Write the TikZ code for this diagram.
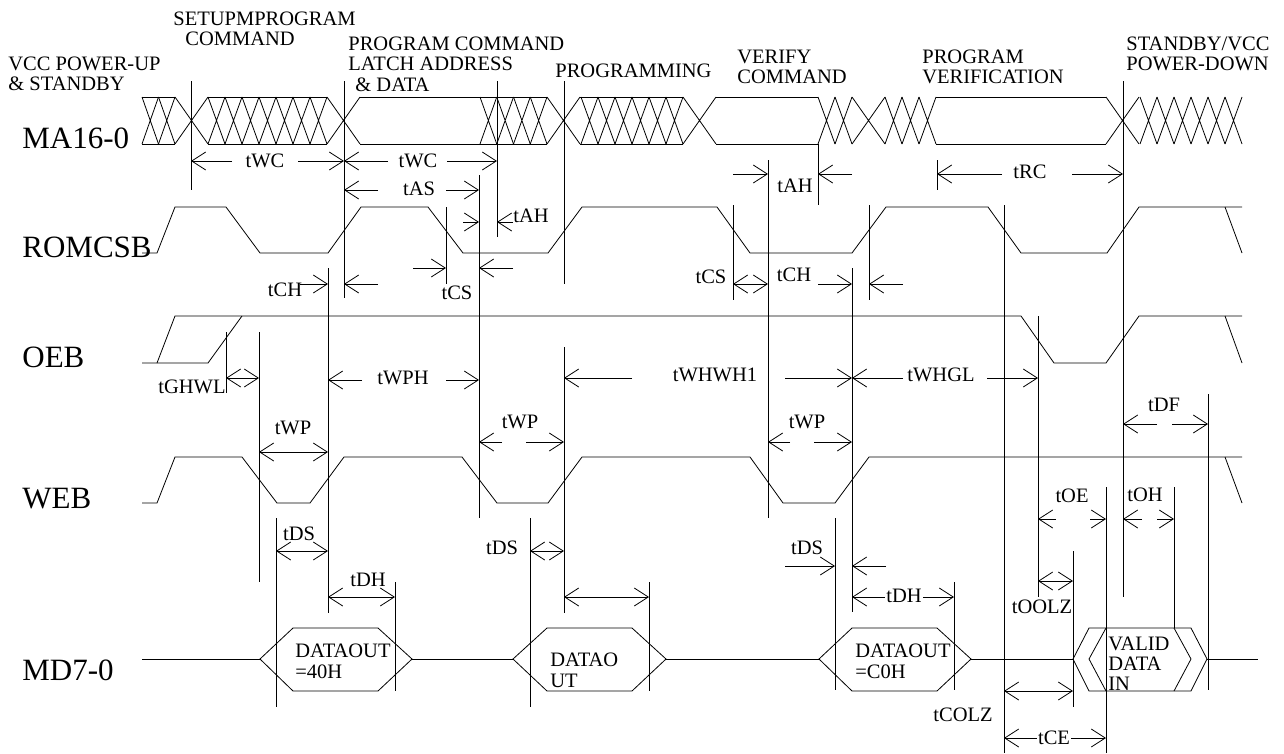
\documentclass[tikz,border=0pt]{standalone}
\usepackage{fontspec}
\setmainfont{Liberation Serif}
\usetikzlibrary{arrows.meta}
\begin{document}
\begin{tikzpicture}[x=1pt,y=-1pt,line width=0.8pt,
 ar/.style={-{Straight Barb[length=14pt,width=18pt]}},
 dar/.style={{Straight Barb[length=14pt,width=18pt]}-{Straight Barb[length=14pt,width=18pt]}},
 tl/.style={font=\fontsize{20.5}{20.5}\selectfont, inner sep=0pt},
 ph/.style={font=\fontsize{20.5}{20.5}\selectfont, inner sep=0pt, anchor=base west},
 hx/.style={font=\fontsize{20.5}{20.5}\selectfont, inner sep=0pt, anchor=base west},
 sl/.style={font=\fontsize{31}{31}\selectfont, inner sep=0pt, anchor=base west},
 wl/.style={fill=white, inner sep=1pt, font=\fontsize{20.5}{20.5}\selectfont}]
\fill[white] (0,0) rectangle (1284,753);
\useasboundingbox (0,0) rectangle (1284,753);
% phase labels
\node[ph] (p1a) at (8,70) {VCC POWER-UP};
\node[ph] (p1b) at (8,90) {\& STANDBY};
\node[ph] (p2a) at (173,25) {SETUPMPROGRAM};
\node[ph] (p2b) at (185,45) {COMMAND};
\node[ph] (p3a) at (348,50) {PROGRAM COMMAND};
\node[ph] (p3b) at (348,70) {LATCH ADDRESS};
\node[ph] (p3c) at (355,91) {\& DATA};
\node[ph] (p4) at (555,77) {PROGRAMMING};
\node[ph] (p5a) at (737,63) {VERIFY};
\node[ph] (p5b) at (737,83) {COMMAND};
\node[ph] (p6a) at (922,63) {PROGRAM};
\node[ph] (p6b) at (922,83) {VERIFICATION};
\node[ph] (p7a) at (1126,50) {STANDBY/VCC};
\node[ph] (p7b) at (1126,70) {POWER-DOWN};
% signal labels
\node[sl] (sMA) at (22,148) {MA16-0};
\node[sl] (sCS) at (22,257) {ROMCSB};
\node[sl] (sOE) at (22,367) {OEB};
\node[sl] (sWE) at (22,508) {WEB};
\node[sl] (sMD) at (22,680) {MD7-0};
% MA bus
\foreach \s/\n/\w in {142/2/16.5, 208/7/17, 480/4/16.75, 581/6/17, 818/2/17, 885/3/17, 1140/6/17}{
  \foreach \i in {1,...,\n}{
    \pgfmathsetmacro\xa{\s+(\i-1)*\w}
    \pgfmathsetmacro\xb{\s+\i*\w}
    \draw (\xa,97)--(\xb,144) (\xa,144)--(\xb,97);
  }}
\foreach \s in {175,327,547,683,852,1106}
  \draw (\s,97)--({\s+33},144) (\s,144)--({\s+33},97);
\foreach \a/\b in {142/175, 208/327, 360/547, 580/683, 716/818, 936/1106}
  \draw (\a,97)--(\b,97) (\a,144)--(\b,144);
% ROMCSB
\draw (142,253)--(157,253)--(175,207)--(226,207)--(260,253)--(328,253)--(361,207)--(428,207)--(463,253)--(548,253)--(582,207)--(717,207)--(750,253)--(852,253)--(886,207)--(988,207)--(1021,253)--(1107,253)--(1139,207)--(1242,207);
\draw (1225,207)--(1242,253);
% OEB
\draw (142,363)--(208,363)--(242,316);
\draw (157,363)--(175,316)--(1021,316)--(1054,363)--(1106,363)--(1139,316)--(1242,316);
\draw (1225,316)--(1242,363);
% WEB
\draw (142,503)--(157,503)--(175,457)--(242,457)--(277,503)--(310,503)--(344,457)--(462,457)--(497,503)--(548,503)--(582,457)--(750,457)--(783,503)--(835,503)--(869,457)--(1242,457);
\draw (1225,457)--(1242,503);
% MD7-0
\draw (142,659)--(260,659);
\draw (260,659)--(293,628)--(378,628)--(412,659)--(378,691)--(293,691)--cycle;
\draw (412,659)--(513,659);
\draw (513,659)--(547,628)--(632,628)--(666,659)--(632,691)--(547,691)--cycle;
\draw (666,659)--(819,659);
\draw (819,659)--(852,628)--(937,628)--(971,659)--(937,691)--(852,691)--cycle;
\draw (971,659)--(1073,659);
\draw (1073,659)--(1089,628)--(1191,628)--(1207,659)--(1191,691)--(1089,691)--cycle;
\draw (1106,628)--(1089,659)--(1106,691);
\draw (1174,628)--(1191,659)--(1174,691);
\draw (1207,659)--(1258,659);
\node[hx] (d1a) at (295,657) {DATAOUT};
\node[hx] (d1b) at (295,678) {=40H};
\node[hx] (d2a) at (550,666) {DATAO};
\node[hx] (d2b) at (550,687) {UT};
\node[hx] (d3a) at (855,657) {DATAOUT};
\node[hx] (d3b) at (855,678) {=C0H};
\node[hx] (d4a) at (1108,650) {VALID};
\node[hx] (d4b) at (1108,670) {DATA};
\node[hx] (d4c) at (1108,690) {IN};
% vertical reference lines
\foreach \x/\a/\b in {191/81/190, 344/81/298, 497/81/237, 564/81/284, 564/347/613, 768/160/518,
  818/144/205, 937/160/190, 1123/81/597, 479/175/518, 446/207/284, 328/268/613, 226/332/393,
  259/332/582, 276/518/707, 395/582/691, 530/518/707, 649/582/691, 733/205/300, 852/268/612,
  869/205/300, 1004/205/753, 1038/316/597, 1073/551/707, 1106/487/753, 1174/487/628,
  1208/394/690, 954/582/690, 835/518/690}
  \draw (\x,\a)--(\x,\b);
% timing annotations
\node[tl] (tWCa) at (265,161) {tWC};
\draw[ar] (232,161)--(191,161); \draw[ar] (298,161)--(344,161);
\node[tl] (tWCb) at (418,161) {tWC};
\draw[ar] (388,161)--(344,161); \draw[ar] (447,161)--(497,161);
\node[tl] (tAS) at (419,189) {tAS};
\draw[ar] (378,190)--(344,190); \draw[ar] (446,190)--(479,190);
\node[tl] (tAHa) at (531,216) {tAH};
\draw[ar] (463,222)--(479,222); \draw[ar] (513,222)--(497,222);
\node[tl] (tCHa) at (285,290) {tCH};
\draw[ar] (300,284)--(328,284); \draw[ar] (378,284)--(344,284);
\node[tl] (tCSa) at (457,293) {tCS};
\draw[ar] (413,268)--(446,268); \draw[ar] (513,268)--(479,268);
\node[tl] (tGHWL) at (192,387) {tGHWL};
\draw[dar] (226,378)--(259,378);
\node[tl] (tWPH) at (403,378) {tWPH};
\draw[ar] (362,380)--(328,380); \draw[ar] (446,380)--(479,380);
\node[tl] (tWPa) at (293,428) {tWP};
\draw[dar] (259,452)--(328,452);
\node[tl] (tDSa) at (299,534) {tDS};
\draw[dar] (276,551)--(328,551);
\node[tl] (tDHa) at (368,580) {tDH};
\draw[dar] (328,597)--(395,597);
\node[tl] (tWPb) at (520,422) {tWP};
\draw[ar] (502,442)--(479,442); \draw[ar] (526,442)--(564,442);
\node[tl] (tDSb) at (502,548) {tDS};
\draw[dar] (530,551)--(564,551);
\draw[dar] (564,597)--(649,597);
\node[tl] (tWHWH) at (715,375) {tWHWH1};
\draw[ar] (632,378)--(564,378); \draw[ar] (785,378)--(852,378);
\node[tl] (tAHb) at (795,186) {tAH};
\draw[ar] (733,174)--(768,174); \draw[ar] (852,174)--(818,174);
\node[tl] (tCSb) at (711,277) {tCS};
\draw[dar] (733,284)--(768,284);
\node[tl] (tCHb) at (794,275) {tCH};
\draw[ar] (818,284)--(852,284); \draw[ar] (903,284)--(869,284);
\node[tl] (tWPc) at (807,422) {tWP};
\draw[ar] (790,442)--(768,442); \draw[ar] (814,442)--(852,442);
\node[tl] (tDSc) at (807,548) {tDS};
\draw[ar] (785,566)--(835,566); \draw[ar] (886,566)--(852,566);
\draw[dar] (852,597)--(954,597);
\node[wl] (tDHc) at (904,596) {tDH};
\node[tl] (tRC) at (1030,172) {tRC};
\draw[ar] (1002,174)--(937,174); \draw[ar] (1072,174)--(1123,174);
\node[tl] (tWHGL) at (941,375) {tWHGL};
\draw[ar] (903,378)--(852,378); \draw[ar] (987,378)--(1038,378);
\node[tl] (tDF) at (1164,405) {tDF};
\draw[ar] (1157,424)--(1123,424); \draw[ar] (1172,424)--(1208,424);
\node[tl] (tOE) at (1072,496) {tOE};
\draw[ar] (1056,519)--(1038,519); \draw[ar] (1090,519)--(1106,519);
\node[tl] (tOH) at (1145,495) {tOH};
\draw[ar] (1142,519)--(1123,519); \draw[ar] (1157,519)--(1174,519);
\node[tl] (tOOLZ) at (1042,607) {tOOLZ};
\draw[dar] (1038,581)--(1073,581);
\node[tl] (tCOLZ) at (963,715) {tCOLZ};
\draw[dar] (1004,691)--(1073,691);
\draw[dar] (1004,738)--(1106,738);
\node[wl] (tCE) at (1054,738) {tCE};
\end{tikzpicture}
\end{document}
